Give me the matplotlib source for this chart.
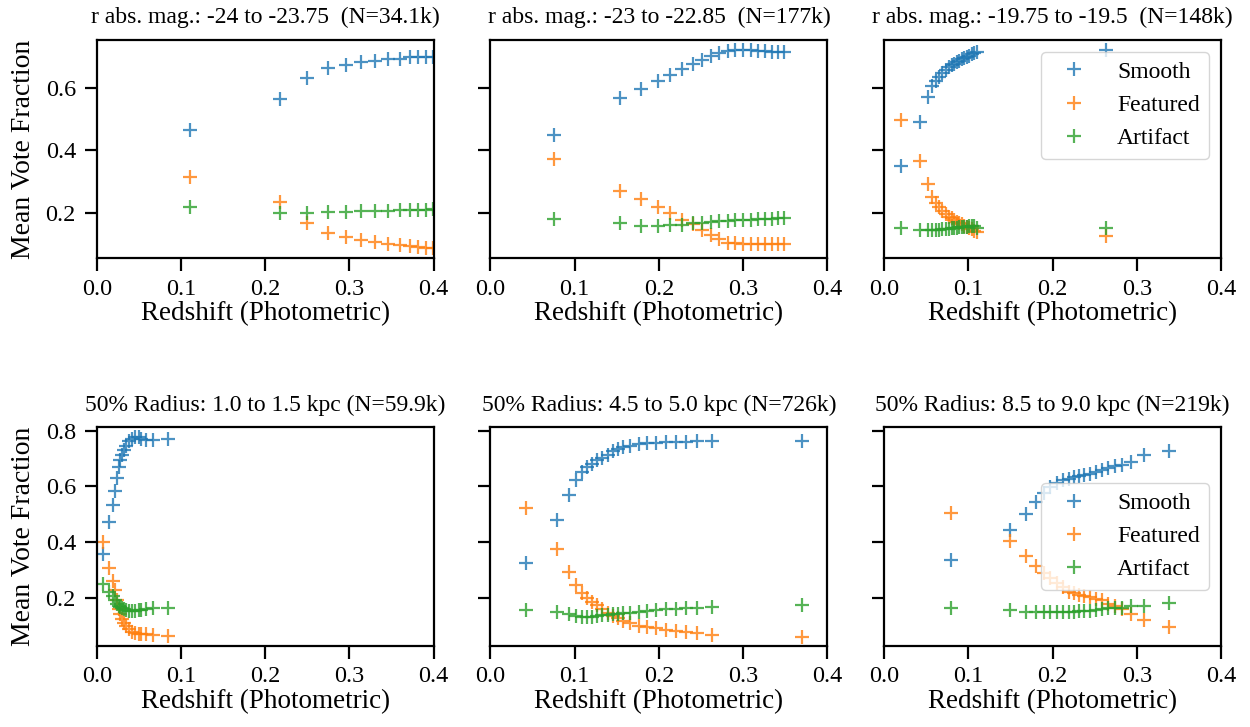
import matplotlib
matplotlib.use('Agg')
import matplotlib.pyplot as plt

plt.rcParams['font.family'] = ['Liberation Serif', 'DejaVu Serif']

# panel titles
titles = [
    'r abs. mag.: -24 to -23.75  (N=34.1k)',
    'r abs. mag.: -23 to -22.85  (N=177k)',
    'r abs. mag.: -19.75 to -19.5  (N=148k)',
    '50% Radius: 1.0 to 1.5 kpc (N=59.9k)',
    '50% Radius: 4.5 to 5.0 kpc (N=726k)',
    '50% Radius: 8.5 to 9.0 kpc (N=219k)',
]
labels = ['Smooth', 'Featured', 'Artifact']

# top-left
z1 = [0.111, 0.218, 0.250, 0.275, 0.296, 0.314, 0.331, 0.346, 0.360, 0.372, 0.382, 0.391, 0.399]
smooth1 = [0.464, 0.564, 0.632, 0.664, 0.672, 0.682, 0.686, 0.691, 0.691, 0.697, 0.699, 0.699, 0.699]
featured1 = [0.314, 0.234, 0.165, 0.133, 0.122, 0.111, 0.106, 0.100, 0.097, 0.092, 0.088, 0.087, 0.087]
artifact1 = [0.218, 0.200, 0.200, 0.202, 0.202, 0.205, 0.205, 0.205, 0.207, 0.207, 0.207, 0.207, 0.210]

# top-middle
z2 = [0.075, 0.154, 0.179, 0.199, 0.213, 0.227, 0.240, 0.251, 0.262, 0.272, 0.282, 0.291, 0.300,
      0.309, 0.318, 0.326, 0.334, 0.342, 0.349]
smooth2 = [0.448, 0.566, 0.595, 0.621, 0.641, 0.660, 0.676, 0.689, 0.702, 0.712, 0.719, 0.721, 0.721,
           0.721, 0.719, 0.717, 0.716, 0.716, 0.716]
featured2 = [0.370, 0.268, 0.242, 0.218, 0.199, 0.175, 0.163, 0.145, 0.129, 0.116, 0.103, 0.101, 0.100,
             0.100, 0.100, 0.100, 0.100, 0.100, 0.100]
artifact2 = [0.180, 0.165, 0.158, 0.158, 0.161, 0.161, 0.165, 0.167, 0.169, 0.172, 0.173, 0.175, 0.175,
             0.177, 0.178, 0.180, 0.180, 0.183, 0.183]

# top-right
z3 = [0.020, 0.042, 0.0525, 0.057, 0.061, 0.065, 0.069, 0.073, 0.077, 0.080, 0.083, 0.086, 0.089,
      0.092, 0.095, 0.098, 0.101, 0.104, 0.107, 0.110, 0.264]
smooth3 = [0.350, 0.491, 0.571, 0.605, 0.620, 0.635, 0.647, 0.657, 0.665, 0.672, 0.677, 0.682, 0.687,
           0.691, 0.695, 0.699, 0.703, 0.707, 0.711, 0.716, 0.721]
featured3 = [0.496, 0.365, 0.290, 0.250, 0.232, 0.217, 0.205, 0.195, 0.187, 0.181, 0.176, 0.171, 0.166,
             0.162, 0.158, 0.154, 0.150, 0.146, 0.141, 0.136, 0.125]
artifact3 = [0.151, 0.143, 0.143, 0.143, 0.144, 0.145, 0.146, 0.147, 0.148, 0.149, 0.150, 0.151, 0.152,
             0.153, 0.154, 0.155, 0.156, 0.157, 0.157, 0.151, 0.151]

# bottom-left
z4 = [0.007, 0.014, 0.019, 0.022, 0.024, 0.026, 0.028, 0.030, 0.032, 0.035, 0.038, 0.042, 0.046,
      0.050, 0.053, 0.059, 0.067, 0.085]
smooth4 = [0.357, 0.473, 0.534, 0.582, 0.630, 0.670, 0.693, 0.711, 0.729, 0.746, 0.761, 0.770, 0.776,
           0.776, 0.770, 0.767, 0.767, 0.768]
featured4 = [0.399, 0.308, 0.260, 0.227, 0.192, 0.160, 0.140, 0.125, 0.110, 0.098, 0.086, 0.078, 0.072,
             0.070, 0.069, 0.069, 0.067, 0.063]
artifact4 = [0.249, 0.220, 0.205, 0.192, 0.178, 0.170, 0.165, 0.162, 0.159, 0.156, 0.153, 0.152, 0.153,
             0.155, 0.156, 0.158, 0.162, 0.164]

# bottom-middle
z5 = [0.042, 0.079, 0.093, 0.102, 0.109, 0.115, 0.121, 0.127, 0.133, 0.139, 0.145, 0.151, 0.157,
      0.166, 0.176, 0.186, 0.197, 0.208, 0.220, 0.232, 0.245, 0.263, 0.370]
smooth5 = [0.326, 0.479, 0.568, 0.622, 0.651, 0.669, 0.681, 0.693, 0.702, 0.711, 0.726, 0.734, 0.740,
           0.746, 0.752, 0.755, 0.756, 0.758, 0.758, 0.758, 0.761, 0.761, 0.761]
featured5 = [0.523, 0.374, 0.291, 0.246, 0.216, 0.198, 0.186, 0.174, 0.158, 0.146, 0.134, 0.126, 0.118,
             0.108, 0.100, 0.094, 0.090, 0.084, 0.082, 0.078, 0.074, 0.066, 0.060]
artifact5 = [0.156, 0.148, 0.141, 0.135, 0.132, 0.132, 0.132, 0.135, 0.136, 0.138, 0.141, 0.142, 0.144,
             0.146, 0.148, 0.152, 0.156, 0.158, 0.158, 0.162, 0.164, 0.168, 0.174]

# bottom-right
z6 = [0.079, 0.149, 0.168, 0.180, 0.190, 0.197, 0.205, 0.212, 0.219, 0.225, 0.231, 0.237, 0.245,
      0.252, 0.259, 0.266, 0.274, 0.282, 0.293, 0.309, 0.338]
smooth6 = [0.336, 0.443, 0.502, 0.544, 0.574, 0.598, 0.610, 0.621, 0.627, 0.633, 0.635, 0.639, 0.645,
           0.651, 0.657, 0.666, 0.672, 0.678, 0.687, 0.711, 0.726]
featured6 = [0.505, 0.404, 0.348, 0.312, 0.288, 0.270, 0.253, 0.238, 0.221, 0.215, 0.211, 0.207, 0.202,
             0.195, 0.190, 0.179, 0.169, 0.160, 0.140, 0.120, 0.095]
artifact6 = [0.162, 0.156, 0.150, 0.148, 0.148, 0.148, 0.148, 0.150, 0.150, 0.150, 0.152, 0.153, 0.153,
             0.156, 0.158, 0.162, 0.164, 0.164, 0.170, 0.170, 0.182]

panels = [
    (z1, smooth1, featured1, artifact1),
    (z2, smooth2, featured2, artifact2),
    (z3, smooth3, featured3, artifact3),
    (z4, smooth4, featured4, artifact4),
    (z5, smooth5, featured5, artifact5),
    (z6, smooth6, featured6, artifact6),
]
colors = ['tab:blue', 'tab:orange', 'tab:green']

fig, axes = plt.subplots(2, 3, figsize=(12.5, 7.27), dpi=100, sharey='row')
fig.subplots_adjust(left=0.0774, right=0.9768, top=0.945, bottom=0.112, wspace=0.169, hspace=0.773)

for i, ax in enumerate(axes.flat):
    z, s, f, a = panels[i]
    for vals, c, lab in zip([s, f, a], colors, labels):
        ax.plot(z, vals, '+', color=c, alpha=0.8, markersize=10, markeredgewidth=1.6,
                linestyle='none', label=lab)
    ax.set_xlim(0, 0.4)
    ax.set_xticks([0.0, 0.1, 0.2, 0.3, 0.4])
    ax.set_xticklabels(['0.0', '0.1', '0.2', '0.3', '0.4'])
    ax.set_title(titles[i], fontsize=17, pad=12)
    ax.set_xlabel('Redshift (Photometric)', fontsize=19.5, labelpad=1)
    ax.tick_params(labelsize=17.5, length=9, width=1.6, direction='out', pad=6)
    for sp in ax.spines.values():
        sp.set_linewidth(1.6)
    if i % 3 == 0:
        ax.set_ylabel('Mean Vote Fraction', fontsize=20, labelpad=7)

axes[0, 0].set_ylim(0.053, 0.753)
axes[0, 0].set_yticks([0.2, 0.4, 0.6])
axes[0, 0].set_yticklabels(['0.2', '0.4', '0.6'])
axes[1, 0].set_ylim(0.028, 0.812)
axes[1, 0].set_yticks([0.2, 0.4, 0.6, 0.8])
axes[1, 0].set_yticklabels(['0.2', '0.4', '0.6', '0.8'])

axes[0, 2].legend(loc='upper right', fontsize=17)
axes[1, 2].legend(loc='center right', fontsize=17)

fig.savefig('out.png', dpi=100)
